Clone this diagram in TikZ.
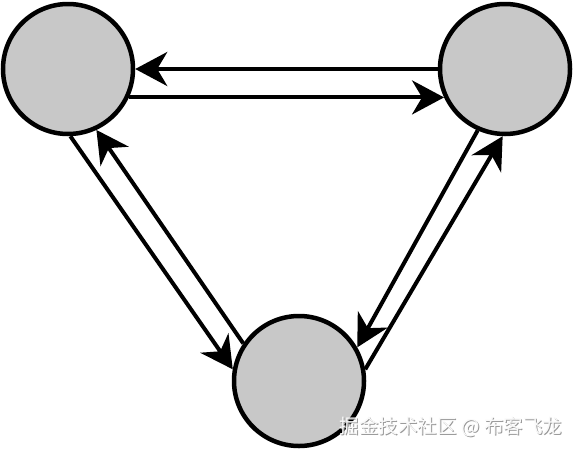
\documentclass[tikz,border=0pt]{standalone}
\usepackage{fontspec}
\newfontfamily\cjk{Noto Sans CJK SC}
\usetikzlibrary{arrows.meta}
\definecolor{nodegray}{RGB}{200,200,200}
\begin{document}
\begin{tikzpicture}[x=1pt,y=-1pt,
  ball/.style={circle,draw=black,fill=nodegray,line width=4.5pt,inner sep=0pt,minimum size=130pt},
  arr/.style={line width=4pt,-{Stealth[length=32pt,width=34pt,inset=10pt]}},
  wmtext/.style={font=\cjk\fontsize{19.5}{19.5}\selectfont}]
\useasboundingbox (0,0) rectangle (575,450);
\node[ball] (A) at (68,69) {};
\node[ball] (B) at (505,69) {};
\node[ball] (C) at (299,381) {};
\draw[arr] (B.180) -- (A.0);
\draw[arr] (A.-25) -- (B.-155);
\draw[arr] (A.-88) -- (C.170);
\draw[arr] (C.146) -- (A.-65);
\draw[arr] (B.-114) -- (C.30);
\draw[arr] (C.10) -- (B.-92);
\node[wmtext,text=gray!80] (wms) at (452,428) {掘金技术社区 @ 布客飞龙};
\node[wmtext,text=white!95!gray] (wm) at (451,427) {掘金技术社区 @ 布客飞龙};
\end{tikzpicture}
\end{document}
